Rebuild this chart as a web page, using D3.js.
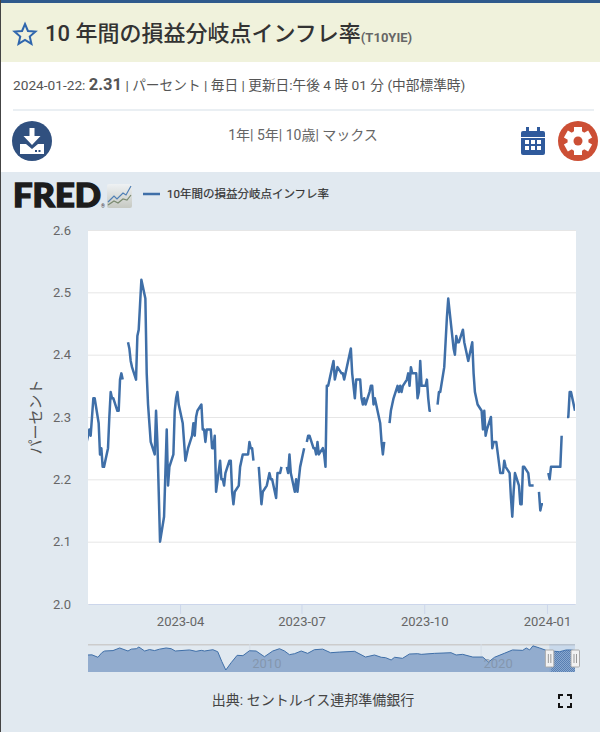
<html>
<head>
  <title>T10YIE</title>
  <meta charset="utf-8" />
<script src="https://d3js.org/d3.v7.min.js"></script>
</head>
<style>
  body { margin: 0; background: #fff; overflow: hidden; }
  svg { display: block; }
  text { font-family: Roboto, "Noto Sans CJK JP", sans-serif; }
</style>
<body>
<svg class="main" width="600" height="732"></svg>
<script>

// weekdays, one row per week, first row is the week of 2023-01-16
const dailyValues = [
  null,null,null,null,2.25,
  2.28,2.27,2.30,2.33,2.33,
  2.29,2.24,2.25,2.22,2.22,
  2.25,2.30,2.34,2.33,2.33,
  2.31,2.31,2.36,2.37,2.36,
  null,2.42,2.41,2.39,2.38,
  2.36,2.43,2.44,2.48,2.52,
  2.49,2.37,2.32,2.29,2.26,
  2.24,2.31,2.26,2.18,2.10,
  2.14,2.21,2.28,2.19,2.22,
  2.24,2.31,2.33,2.34,2.32,
  2.29,2.26,2.23,2.24,2.25,
  2.27,2.29,2.27,2.30,2.31,
  2.32,2.28,2.28,2.26,2.28,
  2.28,2.25,2.25,2.27,2.18,
  2.23,2.20,2.20,2.19,2.21,
  2.23,2.23,2.18,2.16,2.18,
  2.19,2.22,2.23,2.24,2.24,
  2.24,2.26,2.25,2.25,2.23,
  null,2.22,2.19,2.16,2.18,
  2.19,2.20,2.21,2.20,2.20,
  2.17,2.21,2.21,2.21,2.22,
  null,2.22,2.21,2.24,2.21,
  2.18,2.20,2.18,2.20,2.22,
  2.25,null,2.26,2.27,2.27,
  2.25,2.25,2.24,2.26,2.24,
  2.25,2.24,2.22,2.35,2.35,
  2.38,2.39,2.36,2.37,2.38,
  2.37,2.37,2.36,2.37,2.38,
  2.41,2.37,2.35,2.33,2.36,
  2.36,2.33,2.32,2.33,2.32,
  2.34,2.35,2.35,2.32,2.33,
  2.30,2.29,2.26,2.24,2.26,
  null,2.29,2.31,2.32,2.33,
  2.35,2.34,2.35,2.34,2.35,
  2.36,2.37,2.35,2.38,2.37,
  2.37,2.33,2.34,2.39,2.35,
  2.35,2.36,2.33,2.31,2.31,
  null,null,2.32,2.34,2.34,
  2.38,2.42,2.46,2.49,2.47,
  2.41,2.40,2.43,2.42,2.42,
  2.44,2.42,2.41,2.40,2.39,
  2.42,2.37,2.34,2.33,2.32,
  2.31,2.28,2.31,2.27,2.28,
  2.30,2.25,2.26,2.26,2.26,
  2.21,2.21,2.21,2.23,2.22,
  2.21,2.17,2.14,2.18,2.21,
  2.19,2.16,2.16,2.22,2.22,
  2.21,2.19,2.19,2.19,2.19,
  null,2.18,2.15,2.16,2.16,
  null,2.21,2.20,2.22,2.22,
  2.22,2.22,2.22,2.22,2.27,
  null,2.30,2.30,2.34,2.34,
  2.31
]

const yTicks = [2.0, 2.1, 2.2, 2.3, 2.4, 2.5, 2.6]
const xTickDates = ["2023-04-01", "2023-07-01", "2023-10-01", "2024-01-01"]

// navigator, whole history
const overviewYears = [2003.0,2003.17,2003.43,2003.6,2003.72,2004.08,2004.37,2004.73,2004.87,2005.09,2005.2,2005.45,2005.66,2005.88,2006.1,2006.38,2006.6,2006.77,2007.39,2007.67,2007.9,2008.04,2008.4,2008.61,2008.79,2008.96,2009.19,2009.45,2009.7,2009.98,2010.27,2010.63,2010.99,2011.28,2011.5,2011.71,2011.93,2012.22,2012.5,2012.79,2013.15,2013.49,2013.88,2014.53,2015.0,2015.39,2015.68,2015.87,2016.11,2016.26,2016.6,2016.9,2017.26,2017.41,2017.98,2018.7,2018.92,2019.2,2019.64,2020.07,2020.32,2020.58,2021.0,2021.36,2021.8,2021.95,2022.1,2022.24,2022.53,2022.81,2023.03,2023.39,2023.68,2023.9,2024.06]
const overviewValues = [1.88,1.9,1.6,2.17,2.37,2.42,2.74,2.37,2.6,2.65,2.86,2.37,2.55,2.42,2.6,2.74,2.65,2.37,2.5,2.33,2.45,2.37,2.53,2.28,1.06,0.04,0.93,1.84,1.8,2.4,2.37,1.67,2.37,2.65,2.37,1.92,2.04,2.37,2.08,2.53,2.6,2.16,2.24,2.33,1.63,1.88,1.6,1.55,1.27,1.6,1.47,2.0,2.04,1.96,2.08,2.16,1.88,1.96,1.63,1.63,1.02,1.6,2.08,2.5,2.45,2.74,2.5,3.0,2.74,2.45,2.37,2.28,2.5,2.5,2.4]
const overviewTicks = [2010, 2020]

const titleText = "10 年間の損益分岐点インフレ率"
const seriesName = "10年間の損益分岐点インフレ率"

const lineColor = "#3f6fa8"
const panelColor = "#e1e9f0"

const svg = d3.select("svg")
const defs = svg.append("defs")

// page blocks
svg.append("rect").attr("width", 600).attr("height", 732).attr("fill", "#fff")
svg.append("rect").attr("y", 3).attr("width", 600).attr("height", 59).attr("fill", "#f0f2dc")
svg.append("rect").attr("width", 600).attr("height", 3).attr("fill", "#2f5a8c")
svg.append("rect").attr("y", 172).attr("width", 600).attr("height", 560).attr("fill", panelColor)
svg.append("rect").attr("width", 1).attr("height", 732).attr("fill", "#444")
svg.append("rect").attr("x", 13).attr("y", 109).attr("width", 581).attr("height", 2).attr("fill", "#eaeff3")

// star
const star = d3.range(10).map(i => {
  const r = i % 2 ? 5 : 11, a = i * Math.PI / 5
  return [25 + r * Math.sin(a), 35 - r * Math.cos(a)]
})
svg.append("path").attr("d", d3.line()(star) + "Z")
  .attr("fill", "none").attr("stroke", "#2f66ad").attr("stroke-width", 2)

// header text
const title = svg.append("text").attr("x", 45).attr("y", 41).attr("fill", "#333")
title.append("tspan").attr("font-size", 22).attr("font-weight", 500).text(titleText)
title.append("tspan").attr("font-size", 13).attr("font-weight", 700).attr("fill", "#666").attr("dy", 1).text("(T10YIE)")

const meta = svg.append("text").attr("x", 13).attr("y", 90).attr("fill", "#555").attr("font-size", 13.7)
meta.append("tspan").text("2024-01-22: ")
meta.append("tspan").attr("font-size", 16.5).attr("font-weight", 700).text("2.31")
meta.append("tspan").text(" | パーセント | 毎日 | 更新日:午後 4 時 01 分 (中部標準時)")

svg.append("text").attr("x", 303).attr("y", 140).attr("text-anchor", "middle")
  .attr("font-size", 14).attr("fill", "#666").text("1年| 5年| 10歳| マックス")

// download button
svg.append("circle").attr("cx", 32).attr("cy", 141).attr("r", 20).attr("fill", "#30507f")
svg.append("path").attr("d", "M29.5 128h5v8h6l-8.5 9l-8.5-9h6Z").attr("fill", "#fff")
svg.append("path").attr("d", "M20 144h6l6 5l6-5h6v10h-24Z").attr("fill", "#fff")
svg.append("rect").attr("x", 35).attr("y", 150).attr("width", 2).attr("height", 2).attr("fill", "#30507f")
svg.append("rect").attr("x", 38.5).attr("y", 150).attr("width", 2).attr("height", 2).attr("fill", "#30507f")

// calendar button
svg.append("rect").attr("x", 521).attr("y", 131).attr("width", 24).attr("height", 24).attr("rx", 2).attr("fill", "#2f5a9c")
svg.append("rect").attr("x", 526).attr("y", 127).attr("width", 3).attr("height", 7).attr("fill", "#2f5a9c")
svg.append("rect").attr("x", 537).attr("y", 127).attr("width", 3).attr("height", 7).attr("fill", "#2f5a9c")
svg.append("rect").attr("x", 521).attr("y", 137).attr("width", 24).attr("height", 1).attr("fill", "#fff")
d3.range(6).forEach(i => {
  svg.append("rect").attr("x", 525 + (i % 3) * 6).attr("y", 140 + Math.floor(i / 3) * 6)
    .attr("width", 4).attr("height", 4).attr("fill", "#fff")
})

// settings button
svg.append("circle").attr("cx", 578).attr("cy", 141).attr("r", 20).attr("fill", "#cc4f35")
svg.append("circle").attr("cx", 578).attr("cy", 141).attr("r", 10.5).attr("fill", "#fff")
d3.range(6).forEach(i => {
  svg.append("rect").attr("x", 574).attr("y", 127).attr("width", 8).attr("height", 6).attr("fill", "#fff")
    .attr("transform", `rotate(${i * 60} 578 141)`)
})
svg.append("circle").attr("cx", 578).attr("cy", 141).attr("r", 4.5).attr("fill", "#cc4f35")

// FRED logo
svg.append("text").attr("x", 13).attr("y", 207).attr("font-size", 32).attr("font-weight", 900)
  .attr("textLength", 88).attr("lengthAdjust", "spacingAndGlyphs").attr("fill", "#1c1c1c")
  .attr("stroke", "#1c1c1c").attr("stroke-width", 1.4)
  .style("font-family", "Lato, Roboto, sans-serif").text("FRED")
svg.append("text").attr("x", 101).attr("y", 208).attr("font-size", 5).attr("fill", "#333").text("®")
const logoGrad = defs.append("linearGradient").attr("id", "logo-bg").attr("x2", 0).attr("y2", 1)
logoGrad.append("stop").attr("offset", 0).attr("stop-color", "#eef1f3")
logoGrad.append("stop").attr("offset", 1).attr("stop-color", "#c6c9c2")
svg.append("rect").attr("x", 107).attr("y", 184).attr("width", 25).attr("height", 24).attr("rx", 2).attr("fill", "url(#logo-bg)")
svg.append("path").attr("d", "M108 202l6-6l3 3l6-6l3 2l5-9").attr("fill", "none").attr("stroke", "#4f7fb5").attr("stroke-width", 1.2)
svg.append("path").attr("d", "M108 205l6-4l4 2l5-4l4 1l4-5").attr("fill", "none").attr("stroke", "#7b8a70").attr("stroke-width", 1.2)

// legend
svg.append("line").attr("x1", 143).attr("x2", 160).attr("y1", 194).attr("y2", 194)
  .attr("stroke", lineColor).attr("stroke-width", 2.5)
svg.append("text").attr("x", 167).attr("y", 198).attr("font-size", 11.5)
  .attr("fill", "#333").attr("stroke", "#333").attr("stroke-width", 0.2).text(seriesName)

// main plot
const plotLeft = 88, plotRight = 575, plotTop = 230, plotBottom = 604

const weekdays = d3.utcDay.range(new Date(Date.UTC(2023, 0, 16)), new Date(Date.UTC(2024, 0, 23)))
  .filter(d => d.getUTCDay() > 0 && d.getUTCDay() < 6)
const points = weekdays.map((d, i) => ({ date: d, value: dailyValues[i] }))

const x = d3.scaleUtc()
  .domain([new Date(Date.UTC(2023, 0, 22)), new Date(Date.UTC(2024, 0, 22))])
  .range([plotLeft, plotRight])
const y = d3.scaleLinear().domain([2.0, 2.6]).range([plotBottom, plotTop])

svg.append("rect").attr("x", plotLeft).attr("y", plotTop).attr("width", plotRight - plotLeft + 1).attr("height", plotBottom - plotTop)
  .attr("fill", "#fff")

const yAxis = svg.append("g").attr("transform", `translate(${plotLeft},0)`)
  .call(d3.axisLeft(y).tickValues(yTicks).tickFormat(d3.format(".1f")).tickSize(-(plotRight - plotLeft + 1)).tickPadding(17))
yAxis.select(".domain").remove()
yAxis.selectAll("line").attr("stroke", "#e6e6e6")
yAxis.selectAll("text").attr("font-size", 13).attr("fill", "#666")

const xAxis = svg.append("g").attr("transform", `translate(0,${plotBottom})`)
  .call(d3.axisBottom(x).tickValues(xTickDates.map(d => new Date(d))).tickFormat(d3.utcFormat("%Y-%m")).tickSize(10).tickSizeOuter(0).tickPadding(3))
xAxis.select(".domain").attr("stroke", "#ccd6eb")
xAxis.selectAll("line").attr("stroke", "#ccd6eb")
xAxis.selectAll("text").attr("font-size", 13).attr("fill", "#666")

svg.append("text").attr("transform", "translate(41,417) rotate(-90)").attr("text-anchor", "middle")
  .attr("font-size", 15).attr("fill", "#555").text("パーセント")

defs.append("clipPath").attr("id", "plot-clip").append("rect")
  .attr("x", plotLeft).attr("y", plotTop).attr("width", plotRight - plotLeft).attr("height", plotBottom - plotTop)

svg.append("path").datum(points)
  .attr("clip-path", "url(#plot-clip)")
  .attr("d", d3.line().defined(d => d.value !== null).x(d => x(d.date)).y(d => y(d.value)))
  .attr("fill", "none").attr("stroke", lineColor).attr("stroke-width", 2.5).attr("stroke-linejoin", "round")

// navigator
const navTop = 644, navBottom = 672
const navX = d3.scaleLinear().domain([2003, 2024.06]).range([plotLeft, plotRight])
const navY = d3.scaleLinear().domain([0.04, 3.02]).range([670, 645.7])
const overview = overviewYears.map((d, i) => ({ year: d, value: overviewValues[i] }))

svg.append("rect").attr("x", plotLeft).attr("y", navTop).attr("width", plotRight - plotLeft).attr("height", 1.5).attr("fill", "#ccc")

overviewTicks.forEach(t => {
  svg.append("line").attr("x1", navX(t)).attr("x2", navX(t)).attr("y1", navTop).attr("y2", navBottom)
    .attr("stroke", "#d5dde6")
})

svg.append("path").datum(overview)
  .attr("d", d3.area().x(d => navX(d.year)).y0(navBottom).y1(d => navY(d.value)))
  .attr("fill", "#92acce")
svg.append("path").datum(overview)
  .attr("d", d3.line().x(d => navX(d.year)).y(d => navY(d.value)))
  .attr("fill", "none").attr("stroke", lineColor).attr("stroke-width", 1)

overviewTicks.forEach(t => {
  svg.append("text").attr("x", navX(t) + 17).attr("y", 668).attr("text-anchor", "middle")
    .attr("font-size", 13).attr("fill", "#7f8fa3").attr("fill-opacity", 0.75).text(t)
})

// selected range with hatching and handles
const hatch = defs.append("pattern").attr("id", "nav-hatch")
  .attr("width", 2).attr("height", 2).attr("patternUnits", "userSpaceOnUse")
hatch.append("rect").attr("width", 1).attr("height", 1).attr("fill", "#1f4f90")
hatch.append("rect").attr("x", 1).attr("y", 1).attr("width", 1).attr("height", 1).attr("fill", "#1f4f90")

const handleLeft = navX(2022.95), handleRight = plotRight
svg.append("rect").attr("x", handleLeft).attr("y", navTop).attr("width", handleRight - handleLeft).attr("height", navBottom - navTop)
  .attr("fill", "#6b9bd8").attr("fill-opacity", 0.2)
svg.append("path").datum(overview.filter(d => d.year >= 2023.03))
  .attr("d", d3.area().x(d => navX(d.year)).y0(navBottom).y1(d => navY(d.value)))
  .attr("fill", "url(#nav-hatch)").attr("fill-opacity", 0.45)

;[handleLeft, handleRight].forEach(hx => {
  svg.append("rect").attr("x", hx - 4).attr("y", 650).attr("width", 8.5).attr("height", 17).attr("rx", 1)
    .attr("fill", "#f2f2f2").attr("stroke", "#aaa")
  svg.append("line").attr("x1", hx - 1).attr("x2", hx - 1).attr("y1", 654).attr("y2", 663).attr("stroke", "#999")
  svg.append("line").attr("x1", hx + 1.5).attr("x2", hx + 1.5).attr("y1", 654).attr("y2", 663).attr("stroke", "#999")
})

// source and fullscreen icon
svg.append("text").attr("x", 313).attr("y", 705).attr("text-anchor", "middle")
  .attr("font-size", 14).attr("fill", "#444").text("出典: セントルイス連邦準備銀行")

svg.append("path")
  .attr("d", "M559 699v-4h4M567 695h4v4M571 703v4h-4M563 707h-4v-4")
  .attr("fill", "none").attr("stroke", "#111").attr("stroke-width", 2)

</script>
</body>
</html>
